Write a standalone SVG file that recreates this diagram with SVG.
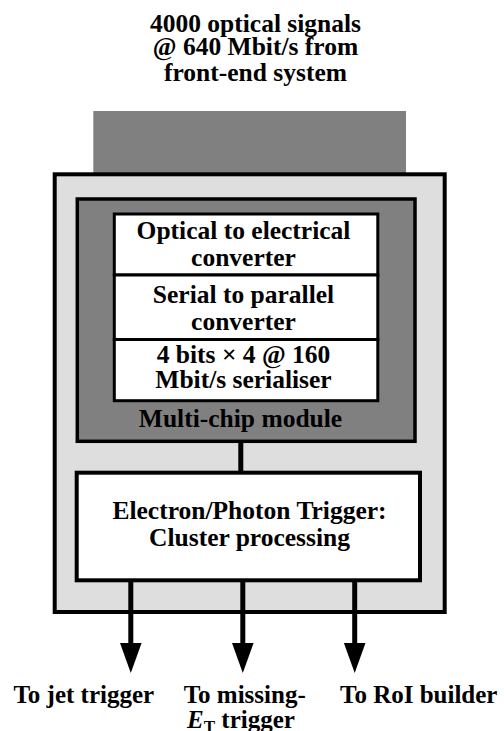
<svg xmlns="http://www.w3.org/2000/svg" width="504" height="731" viewBox="0 0 504 731">
<defs>
<style>
text{font-family:"Liberation Serif","Times New Roman",serif;font-weight:bold;font-size:25.5px;fill:#000;text-anchor:middle}
.wb{fill:#fff;stroke:#000;stroke-width:3}
.conn{stroke:#000;stroke-width:5;fill:none}
</style>
<marker id="ah" markerUnits="userSpaceOnUse" markerWidth="32" markerHeight="24" refX="1" refY="10.8" orient="auto">
<path d="M0,0 L30,10.8 L0,21.6 z" fill="#000"/>
</marker>
</defs>
<g id="title">
<text x="255.5" y="31.5">4000 optical signals</text>
<text x="255.5" y="54.5">@ 640 Mbit/s from</text>
<text x="255.5" y="81">front-end system</text>
</g>
<g id="input-fibres">
<rect x="93.3" y="111" width="312.7" height="63" fill="#808080"/>
</g>
<g id="board">
<rect x="54.7" y="174.3" width="390" height="437.7" fill="#dedede" stroke="#000" stroke-width="4"/>
</g>
<g id="mcm">
<rect x="77.3" y="199" width="337.7" height="242.3" fill="#808080" stroke="#000" stroke-width="3.5"/>
<text x="240.5" y="426.7">Multi-chip module</text>
</g>
<g id="opto">
<rect class="wb" x="114.3" y="214" width="263.5" height="61"/>
<text x="243.5" y="239">Optical to electrical</text>
<text x="243.5" y="266">converter</text>
</g>
<g id="deserialiser">
<rect class="wb" x="114.3" y="275" width="263.5" height="64.5"/>
<text x="243.5" y="303.3">Serial to parallel</text>
<text x="243.5" y="330">converter</text>
</g>
<g id="serialiser">
<rect class="wb" x="114.3" y="339.5" width="263.5" height="61.2"/>
<text x="243.5" y="363.3">4 bits × 4 @ 160</text>
<text x="243.5" y="388.3">Mbit/s serialiser</text>
</g>
<g id="cluster">
<rect x="76.7" y="472.7" width="343.3" height="107.6" fill="#fff" stroke="#000" stroke-width="4"/>
<text x="249.5" y="518.5">Electron/Photon Trigger:</text>
<text x="249.5" y="546">Cluster processing</text>
</g>
<g id="connectors">
<line class="conn" x1="240.8" y1="442" x2="240.8" y2="471"/>
<line class="conn" x1="130.8" y1="582" x2="130.8" y2="644" marker-end="url(#ah)"/>
<line class="conn" x1="242.8" y1="582" x2="242.8" y2="644" marker-end="url(#ah)"/>
<line class="conn" x1="354.7" y1="582" x2="354.7" y2="644" marker-end="url(#ah)"/>
</g>
<g id="out-jet">
<text x="83.8" y="703" style="font-size:25px">To jet trigger</text>
</g>
<g id="out-met">
<text x="244.7" y="703" style="font-size:25px">To missing-</text>
<text x="241" y="727.5" style="font-size:25px"><tspan font-style="italic">E</tspan><tspan dy="4" style="font-size:17px">T</tspan><tspan dy="-4"> trigger</tspan></text>
</g>
<g id="out-roi">
<text x="340" y="703" style="font-size:25px;text-anchor:start">To RoI builder</text>
</g>
</svg>
